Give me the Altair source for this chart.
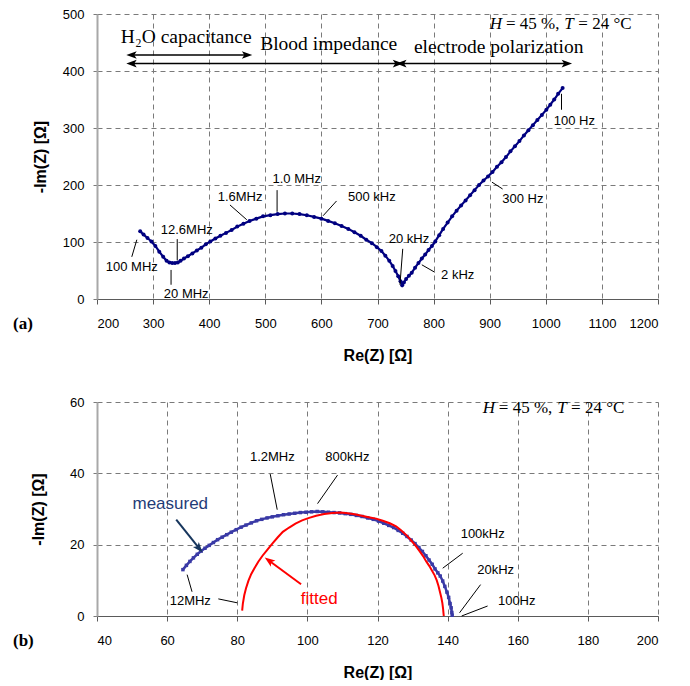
import altair as alt
import pandas as pd

FONT = "Liberation Sans"
SERIF = "Liberation Serif"

# ---------------- (a) top chart data ----------------
top_re = [277, 283, 290, 297, 304, 311, 318, 324, 329, 334, 339, 344,
          349, 355, 362, 370, 378, 386, 394, 402, 411, 420, 430, 440, 450, 461, 472, 484, 496, 509,
          522, 535, 548, 561, 574, 587, 600, 612, 624, 636, 648, 659, 670, 680, 690, 699, 707, 714,
          721, 727, 732, 737, 741, 744,
          747, 751, 756, 761, 767, 773, 779, 785, 791, 797, 803, 810, 817, 825, 833, 841, 849, 857,
          865, 873, 881, 889, 897, 905, 913, 921, 929, 937, 945, 953, 961, 969, 977, 985, 993, 1001,
          1008, 1015, 1022, 1030]
top_im = [119, 113, 107, 101, 93, 83, 74, 67, 64, 63, 63, 64,
          67, 71, 75, 80, 85, 90, 96, 101, 106, 111, 116, 121, 127, 132, 137, 141, 145, 147,
          149, 150, 150, 149, 147, 144, 141, 137, 133, 128, 123, 117, 111, 104, 98, 91, 84, 76,
          67, 58, 49, 40, 31, 24,
          29, 35, 41, 46, 55, 63, 71, 78, 86, 93, 101, 112, 123, 134, 145, 155, 164, 173,
          182, 191, 200, 208, 215, 223, 232, 240, 249, 259, 268, 277, 287, 296, 305, 314, 323, 332,
          341, 350, 360, 370]

top_lbl_text = ["100 MHz", "20 MHz", "12.6MHz", "1.6MHz", "1.0 MHz", "500 kHz",
                "20 kHz", "2 kHz", "300 Hz", "100 Hz"]
top_lbl_x = [262, 359, 360, 455, 556, 690, 756, 843, 959, 1051]
top_lbl_y = [56, 9, 121, 179, 211, 179, 105, 42, 175, 312]
top_lead_x1 = [271, 332, 343, 437, 521, 627, 745, 779, 904, 1028]
top_lead_y1 = [104, 51, 105, 165, 191, 172, 88, 60, 205, 360]
top_lead_x2 = [262, 332, 343, 467, 521, 603, 740, 802, 923, 1028]
top_lead_y2 = [74, 25, 68, 139, 153, 146, 25, 47, 193, 332]

region_text = ["H₂O capacitance", "Blood impedance", "electrode polarization"]
region_x = [359, 613, 916]
region_y = [459, 447, 442]
span_x1 = [262, 262, 743]
span_x2 = [467, 736, 1037]
span_y = [428, 413, 413]

cond_text = ["H", "= 45 %,", "T", "= 24 °C"]
cond_italic = [True, False, True, False]
top_cond_x = [900, 929, 1033, 1058]
top_cond_y = [482, 482, 482, 482]

# ---------------- (b) bottom chart data ----------------
meas_re = [64.5, 65.5, 66.5, 67.5, 68.6, 69.7, 70.8, 72.0, 73.2, 74.4, 75.7, 77.0, 78.3, 79.7,
           81.1, 82.5, 84.0, 85.5, 87.0, 88.5, 90.0, 91.6, 93.2, 94.8, 96.4, 98.0, 99.6, 101.2,
           102.8, 104.4, 106.0, 107.6, 109.2, 110.8, 112.4, 114.0, 115.6, 117.2, 118.8, 120.3,
           121.8, 123.2, 124.6, 125.9, 127.2, 128.4, 129.6, 130.7, 131.8, 132.8, 133.8, 134.7,
           135.6, 136.4, 137.2, 137.9, 138.6, 139.2, 139.8, 140.3, 140.7, 141.0, 141.2, 141.3]
meas_im = [13.0, 14.2, 15.3, 16.3, 17.3, 18.2, 19.0, 19.8, 20.6, 21.4, 22.1, 22.8, 23.5, 24.2,
           24.9, 25.5, 26.1, 26.7, 27.1, 27.5, 27.8, 28.1, 28.4, 28.6, 28.8, 29.0, 29.1, 29.2,
           29.3, 29.2, 29.1, 29.0, 28.9, 28.7, 28.5, 28.2, 27.9, 27.5, 27.1, 26.6,
           26.0, 25.4, 24.8, 24.0, 23.2, 22.3, 21.3, 20.3, 19.2, 18.1, 16.9, 15.7,
           14.5, 13.2, 12.1, 11.2, 9.8, 8.3, 6.7, 5.2, 3.5, 2.3, 1.0, 0.2]
fit_re = [81.4, 81.6, 82.0, 82.5, 83.2, 84.0, 84.9, 86.0, 87.2, 88.5, 90.0, 91.5, 93.0, 94.8,
          96.6, 98.5, 100.5, 102.5, 104.8, 107.2, 109.5, 111.5, 113.5, 115.5, 117.5, 119.6,
          121.5, 123.5, 125.3, 126.8, 128.3, 129.5, 130.8, 132.0, 133.0, 133.9, 134.8, 135.6,
          136.3, 136.9, 137.4, 137.8, 138.2, 138.5, 138.7, 138.8, 138.9]
fit_im = [1.5, 3.5, 5.8, 7.8, 9.9, 11.8, 13.4, 15.2, 16.9, 18.5, 20.3, 22.0, 23.6, 24.8,
          25.9, 26.8, 27.5, 28.1, 28.6, 28.9, 29.0, 28.8, 28.5, 28.1, 27.7, 27.3,
          26.7, 26.0, 25.1, 24.0, 22.6, 21.3, 19.8, 18.2, 16.8, 15.3, 14.0, 12.6,
          11.4, 10.0, 8.4, 6.8, 5.2, 3.6, 2.1, 1.0, 0.0]

bot_lbl_text = ["12MHz", "1.2MHz", "800kHz", "100kHz", "20kHz", "100Hz"]
bot_lbl_x = [66.6, 90.0, 111.4, 150.0, 153.7, 159.7]
bot_lbl_y = [4.3, 44.6, 44.6, 23.0, 12.8, 4.3]
bot_lead_x1 = [74.6, 65.7, 89.4, 108.6, 144.3, 149.4, 151.4]
bot_lead_y1 = [4.8, 11.6, 39.8, 39.5, 17.6, 8.8, 2.8]
bot_lead_x2 = [80.0, 67.1, 91.4, 102.9, 138.6, 143.4, 144.0]
bot_lead_y2 = [3.7, 6.8, 29.8, 31.5, 13.4, 0.9, 0.0]

legend_text = ["measured", "fitted"]
legend_color = ["#1f3c78", "#ff0000"]
legend_x = [60.9, 103.4]
legend_y = [31.5, 4.8]
pointer_x1 = [62.6, 98.2]
pointer_y1 = [27.0, 8.9]
pointer_x2 = [69.1, 89.1]
pointer_y2 = [19.0, 15.5]
pointer_color = ["#17365d", "#ff0000"]
pointer_angle = [140, 306]

bot_cond_x = [150.0, 154.6, 171.3, 175.2]
bot_cond_y = [58.3, 58.3, 58.3, 58.3]

ARROW = "M0,-1 L0.7,0.9 L0,0.45 L-0.7,0.9 Z"


def x_axis(vals):
    return alt.Axis(values=vals, format="d", title="Re(Z) [Ω]", grid=True, gridDash=[5, 4],
                    gridColor="#7a7a7a", gridWidth=1, domainColor="#5a5a5a", domainWidth=1,
                    tickColor="#5a5a5a", tickSize=5, labelPadding=13, titlePadding=17,
                    labelFont=FONT, labelFontSize=13, labelColor="black",
                    titleFont=FONT, titleFontSize=16, titleFontWeight="bold", titleColor="black")


def y_axis(vals, tpad):
    return alt.Axis(values=vals, format="d", title="-Im(Z) [Ω]", grid=True, gridDash=[5, 4],
                    gridColor="#7a7a7a", gridWidth=1, domainColor="#a8a8a8", domainWidth=2,
                    tickColor="#7a7a7a", tickSize=4, labelPadding=9, titlePadding=tpad,
                    labelFont=FONT, labelFontSize=13, labelColor="black",
                    titleFont=FONT, titleFontSize=16, titleFontWeight="bold", titleColor="black")


def cond_layers(xs, ys, xvals, yvals):
    df = pd.DataFrame({"t": cond_text, "it": cond_italic, "x": xvals, "y": yvals})
    out = []
    for flag, style in ((True, "italic"), (False, "normal")):
        out.append(alt.Chart(df[df["it"] == flag]).mark_text(
            font=SERIF, fontSize=17, fontStyle=style, color="black", align="left",
            baseline="middle").encode(
            x=alt.X("x:Q", scale=xs), y=alt.Y("y:Q", scale=ys), text="t:N"))
    return out


# ---------------- build (a) ----------------
W = 561
H1 = 285
H2 = 214

xs1 = alt.Scale(domain=[200, 1200], nice=False, zero=False)
ys1 = alt.Scale(domain=[0, 500], nice=False, zero=False)

curve1 = pd.DataFrame({"re": top_re, "im": top_im, "i": list(range(len(top_re)))})
base1 = alt.Chart(curve1).encode(
    x=alt.X("re:Q", scale=xs1, axis=x_axis(list(range(200, 1201, 100)))),
    y=alt.Y("im:Q", scale=ys1, axis=y_axis(list(range(0, 501, 100)), 14)),
    order="i:Q")
line1 = base1.mark_line(color="#000080", strokeWidth=2.2)
dots1 = base1.mark_circle(color="#000080", size=16, opacity=1)

lead1 = alt.Chart(pd.DataFrame({"x": top_lead_x1, "y": top_lead_y1,
                                "x2": top_lead_x2, "y2": top_lead_y2})).mark_rule(
    color="black", strokeWidth=1).encode(
    x=alt.X("x:Q", scale=xs1), y=alt.Y("y:Q", scale=ys1), x2="x2:Q", y2="y2:Q")
lbl1 = alt.Chart(pd.DataFrame({"t": top_lbl_text, "x": top_lbl_x, "y": top_lbl_y})).mark_text(
    font=FONT, fontSize=13, color="black", align="center", baseline="middle").encode(
    x=alt.X("x:Q", scale=xs1), y=alt.Y("y:Q", scale=ys1), text="t:N")

reg = alt.Chart(pd.DataFrame({"t": region_text, "x": region_x, "y": region_y})).mark_text(
    font=SERIF, fontSize=19.5, color="black", align="center", baseline="middle").encode(
    x=alt.X("x:Q", scale=xs1), y=alt.Y("y:Q", scale=ys1), text="t:N")
span_df = pd.DataFrame({"x": span_x1, "x2": span_x2, "y": span_y})
spans = alt.Chart(span_df).mark_rule(color="black", strokeWidth=1.5).encode(
    x=alt.X("x:Q", scale=xs1), x2="x2:Q", y=alt.Y("y:Q", scale=ys1))
heads_l = alt.Chart(span_df).mark_point(shape=ARROW, filled=True, color="black", size=120,
                                        angle=270, opacity=1).encode(
    x=alt.X("x:Q", scale=xs1), y=alt.Y("y:Q", scale=ys1))
heads_r = alt.Chart(span_df).mark_point(shape=ARROW, filled=True, color="black", size=120,
                                        angle=90, opacity=1).encode(
    x=alt.X("x2:Q", scale=xs1), y=alt.Y("y:Q", scale=ys1))

tag_a = alt.Chart(pd.DataFrame({"t": ["(a)"]})).mark_text(
    font=SERIF, fontSize=17, fontWeight="bold", color="black", align="left",
    baseline="middle").encode(text="t:N", x=alt.value(-84), y=alt.value(H1 + 25))

top = alt.layer(line1, dots1, lead1, lbl1, spans, heads_l, heads_r, reg,
                *cond_layers(xs1, ys1, top_cond_x, top_cond_y), tag_a).properties(
    width=W, height=H1)

# ---------------- build (b) ----------------
xs2 = alt.Scale(domain=[40, 200], nice=False, zero=False)
ys2 = alt.Scale(domain=[0, 60], nice=False, zero=False)

meas = pd.DataFrame({"re": meas_re, "im": meas_im, "i": list(range(len(meas_re)))})
fit = pd.DataFrame({"re": fit_re, "im": fit_im, "i": list(range(len(fit_re)))})
mbase = alt.Chart(meas).encode(
    x=alt.X("re:Q", scale=xs2, axis=x_axis(list(range(40, 201, 20)))),
    y=alt.Y("im:Q", scale=ys2, axis=y_axis(list(range(0, 61, 20)), 23)),
    order="i:Q")
fline = alt.Chart(fit).mark_line(color="#ff0000", strokeWidth=2).encode(
    x=alt.X("re:Q", scale=xs2), y=alt.Y("im:Q", scale=ys2), order="i:Q")
mline = mbase.mark_line(color="#3a3aa6", strokeWidth=2.5)
mdots = mbase.mark_square(color="#3a3aa6", size=12, opacity=1)

lead2 = alt.Chart(pd.DataFrame({"x": bot_lead_x1, "y": bot_lead_y1,
                                "x2": bot_lead_x2, "y2": bot_lead_y2})).mark_rule(
    color="black", strokeWidth=1).encode(
    x=alt.X("x:Q", scale=xs2), y=alt.Y("y:Q", scale=ys2), x2="x2:Q", y2="y2:Q")
lbl2 = alt.Chart(pd.DataFrame({"t": bot_lbl_text, "x": bot_lbl_x, "y": bot_lbl_y})).mark_text(
    font=FONT, fontSize=13, color="black", align="center", baseline="middle").encode(
    x=alt.X("x:Q", scale=xs2), y=alt.Y("y:Q", scale=ys2), text="t:N")

leg_df = pd.DataFrame({"t": legend_text, "c": legend_color, "x": legend_x, "y": legend_y})
leg = alt.Chart(leg_df).mark_text(font=FONT, fontSize=17, align="center",
                                  baseline="middle").encode(
    x=alt.X("x:Q", scale=xs2), y=alt.Y("y:Q", scale=ys2), text="t:N",
    color=alt.Color("c:N", scale=None))
ptr_df = pd.DataFrame({"x": pointer_x1, "y": pointer_y1, "x2": pointer_x2, "y2": pointer_y2,
                       "c": pointer_color, "a": pointer_angle})
ptr = alt.Chart(ptr_df).mark_rule(strokeWidth=2).encode(
    x=alt.X("x:Q", scale=xs2), y=alt.Y("y:Q", scale=ys2), x2="x2:Q", y2="y2:Q",
    color=alt.Color("c:N", scale=None))
ptr_head = alt.Chart(ptr_df).mark_point(shape=ARROW, filled=True, size=120, opacity=1).encode(
    x=alt.X("x2:Q", scale=xs2), y=alt.Y("y2:Q", scale=ys2),
    color=alt.Color("c:N", scale=None), angle=alt.Angle("a:Q", scale=None))

tag_b = alt.Chart(pd.DataFrame({"t": ["(b)"]})).mark_text(
    font=SERIF, fontSize=17, fontWeight="bold", color="black", align="left",
    baseline="middle").encode(text="t:N", x=alt.value(-84), y=alt.value(H2 + 25))

bottom = alt.layer(mline, mdots, fline, lead2, lbl2, ptr, ptr_head, leg,
                   *cond_layers(xs2, ys2, bot_cond_x, bot_cond_y), tag_b).properties(
    width=W, height=H2)

chart = alt.vconcat(top, bottom, spacing=103, bounds="flush").properties(
    padding={"left": 5, "top": 0, "right": 5, "bottom": 0}, background="white"
).configure_view(stroke=None)

chart.save("out.html", embed_options={"renderer": "svg", "actions": False})
